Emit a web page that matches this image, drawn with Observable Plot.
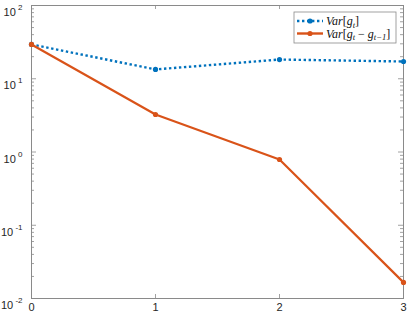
<!DOCTYPE html>
<html>
<head>
<meta charset="utf-8">
<script src="https://cdn.jsdelivr.net/npm/d3@7"></script>
<script src="https://cdn.jsdelivr.net/npm/@observablehq/plot@0.6"></script>
<style>
  html, body { margin: 0; padding: 0; background: #fff; }
  #chart { width: 407px; height: 316px; }
</style>
</head>
<body>
<div id="chart"></div>
<script>
const steps = [0, 1, 2, 3];
const varG = [29.4, 13.4, 18.3, 17.2];
const varDiff = [29.4, 3.25, 0.79, 0.0166];
const seriesNames = ["Var[g_t]", "Var[g_t - g_{t-1}]"];
const xTicks = [0, 1, 2, 3];
const yTicks = [0.01, 0.1, 1, 10, 100];
const yExponents = ["-2", "-1", "0", "1", "2"];

const colors = ["#0072BD", "#D95319"];
const W = 407, H = 316, mL = 31, mR = 4, mT = 5, mB = 18;
const pw = W - mL - mR, ph = H - mT - mB;

const rows = [];
steps.forEach((s, i) => {
  rows.push({step: s, value: varG[i], series: seriesNames[0]});
  rows.push({step: s, value: varDiff[i], series: seriesNames[1]});
});
const blue = rows.filter(d => d.series === seriesNames[0]);
const orange = rows.filter(d => d.series === seriesNames[1]);

const minor = [];
for (let e = -2; e < 2; e++) for (let m = 2; m <= 9; m++) minor.push(m * Math.pow(10, e));

const axisColor = "#8a8a8a";
const dash = "2.4 2.6";

const plot = Plot.plot({
  width: W, height: H,
  marginLeft: mL, marginRight: mR, marginTop: mT, marginBottom: mB,
  style: {fontFamily: "'Liberation Sans', Arial, sans-serif", fontSize: "11px", color: "#262626", background: "#fff"},
  x: {domain: [0, 3], ticks: xTicks, label: null},
  y: {type: "log", domain: [0.01, 100], ticks: yTicks, label: null},
  marks: [
    // minor y ticks (inward, left and right)
    Plot.tickY(minor, {y: d => d, insetRight: pw - 3, stroke: axisColor, strokeWidth: 0.8}),
    Plot.tickY(minor, {y: d => d, insetLeft: pw - 3, stroke: axisColor, strokeWidth: 0.8}),
    // major y ticks
    Plot.tickY(yTicks, {y: d => d, insetRight: pw - 5, stroke: axisColor, strokeWidth: 0.8}),
    Plot.tickY(yTicks, {y: d => d, insetLeft: pw - 5, stroke: axisColor, strokeWidth: 0.8}),
    // x ticks inward, bottom and top
    Plot.tickX(xTicks, {x: d => d, insetTop: ph - 4, stroke: axisColor, strokeWidth: 0.8}),
    Plot.tickX(xTicks, {x: d => d, insetBottom: ph - 4, stroke: axisColor, strokeWidth: 0.8}),
    Plot.frame({stroke: axisColor, strokeWidth: 1}),
    Plot.axisX({ticks: xTicks, tickSize: 0, tickPadding: 5, label: null, tickFormat: d => String(d), fill: "#262626"}),
    Plot.axisY({ticks: yTicks, tickSize: 0, tickPadding: 9, label: null, tickFormat: () => "10", fill: "#262626"}),
    Plot.line(blue, {x: "step", y: "value", stroke: colors[0], strokeWidth: 2.4, strokeDasharray: dash, strokeLinecap: "butt"}),
    Plot.dot(blue, {x: "step", y: "value", fill: colors[0], r: 2.6}),
    Plot.line(orange, {x: "step", y: "value", stroke: colors[1], strokeWidth: 2.2}),
    Plot.dot(orange, {x: "step", y: "value", fill: colors[1], r: 2.6})
  ]
});

const svg = d3.select(plot);
// superscript exponents on y tick labels
svg.selectAll("[aria-label='y-axis tick label'] text").each(function(d, i) {
  const t = d3.select(this);
  t.text("10").attr("dy", "0.65em");
  t.append("tspan").attr("dy", "-0.75em").attr("font-size", "8px").text(" " + yExponents[i]);
});

// legend
const lg = svg.append("g").attr("class", "legend").attr("text-anchor", "start");
const lx = 294, ly = 12, lw = 102, lh = 31;
lg.append("rect").attr("x", lx).attr("y", ly).attr("width", lw).attr("height", lh)
  .attr("fill", "#fff").attr("stroke", axisColor).attr("stroke-width", 0.8);
const entries = [
  {color: colors[0], dash: dash, parts: [["Var", "i"], ["[", "n"], ["g", "i"], ["t", "sub"], ["]", "n"]]},
  {color: colors[1], dash: null, parts: [["Var", "i"], ["[", "n"], ["g", "i"], ["t", "sub"], [" \u2212 ", "n"], ["g", "i"], ["t\u22121", "sub"], ["]", "n"]]}
];
entries.forEach((e, k) => {
  const y = ly + 9 + k * 12.5;
  const line = lg.append("line").attr("x1", lx + 3).attr("x2", lx + 29).attr("y1", y).attr("y2", y)
    .attr("stroke", e.color).attr("stroke-width", 2.4);
  if (e.dash) line.attr("stroke-dasharray", e.dash);
  lg.append("circle").attr("cx", lx + 16).attr("cy", y).attr("r", 2.6).attr("fill", e.color);
  const txt = lg.append("text").attr("x", lx + 32).attr("y", y + 4).attr("text-anchor", "start")
    .attr("font-family", "'Liberation Serif', 'Times New Roman', serif").attr("font-size", "12px").attr("fill", "#111");
  let sub = false;
  e.parts.forEach(([s, kind]) => {
    const ts = txt.append("tspan").text(s);
    if (kind === "i") ts.attr("font-style", "italic");
    if (kind === "sub") {
      ts.attr("font-style", "italic").attr("font-size", "8.5px");
      if (!sub) { ts.attr("dy", "2.5"); sub = true; }
    } else if (sub) {
      ts.attr("dy", "-2.5"); sub = false;
    }
  });
});

document.getElementById("chart").appendChild(plot);
</script>
</body>
</html>
